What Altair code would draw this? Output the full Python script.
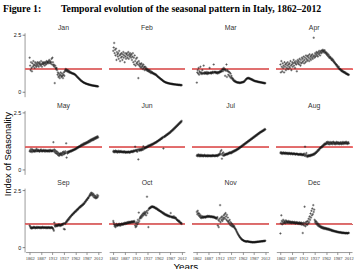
import altair as alt
import pandas as pd

years = list(range(1862, 2013))
months = ["Jan", "Feb", "Mar", "Apr", "May", "Jun",
          "Jul", "Aug", "Sep", "Oct", "Nov", "Dec"]
x_ticks = [1862, 1887, 1912, 1937, 1962, 1987, 2012]
y_ticks = [0, 0.5, 1, 1.5, 2, 2.5]
y_tick_labels = ["0", ".5", "1", "1.5", "2", "2.5"]

jan = [1.50, 1.15, 0.95, 1.30, 1.05, 0.90, 1.25, 1.10, 1.35, 1.15,
       1.20, 1.05, 1.30, 1.15, 1.25, 1.10, 1.20, 1.30, 1.15, 1.25,
       1.10, 1.30, 1.20, 1.25, 1.15, 1.35, 1.20, 1.10, 1.25, 1.30,
       1.20, 1.25, 1.30, 1.15, 1.25, 1.30, 1.20, 1.35, 1.25, 1.30,
       1.30, 1.35, 1.25, 1.40, 1.30, 1.35, 1.25, 1.30, 1.45, 1.20,
       1.50, 1.30, 1.15, 1.20, 1.10, 0.38, 1.15, 1.05, 1.00, 1.05,
       0.95, 0.75, 0.85, 0.65, 0.80, 0.70, 0.60, 0.75, 0.85, 0.70,
       0.65, 0.80, 0.70, 0.60, 0.75, 0.85, 0.70, 0.90, 0.95, 1.00,
       0.92, 0.97, 0.90, 0.95, 0.88, 0.93, 0.86, 0.90, 0.84, 0.87,
       0.83, 0.85, 0.81, 0.82, 0.80, 0.81, 0.78, 0.80, 0.77, 0.76,
       0.75, 0.72, 0.71, 0.68, 0.66, 0.64, 0.62, 0.60, 0.58, 0.56,
       0.54, 0.52, 0.50, 0.48, 0.47, 0.45, 0.44, 0.42, 0.41, 0.40,
       0.39, 0.38, 0.37, 0.36, 0.35, 0.35, 0.34, 0.33, 0.33, 0.32,
       0.31, 0.31, 0.30, 0.30, 0.29, 0.29, 0.28, 0.28, 0.27, 0.27,
       0.27, 0.26, 0.26, 0.26, 0.25, 0.25, 0.25, 0.24, 0.24, 0.24, 0.23]

feb = [1.80, 1.95, 2.15, 1.70, 1.85, 1.60, 1.90, 1.40, 1.75, 1.65,
       1.55, 1.70, 1.45, 1.80, 1.60, 1.35, 1.65, 1.50, 1.70, 1.55,
       1.40, 1.65, 1.75, 1.50, 1.60, 1.30, 1.70, 1.55, 1.45, 1.65,
       1.70, 1.50, 1.60, 1.75, 1.45, 1.65, 1.55, 1.70, 1.60, 1.50,
       1.65, 1.40, 1.55, 1.70, 1.30, 1.50, 1.20, 1.60, 1.35, 1.15,
       1.45, 1.25, 1.50, 1.30, 1.20, 0.60, 1.35, 1.15, 1.25, 1.10,
       1.20, 1.05, 1.25, 1.10, 1.15, 1.00, 1.20, 1.05, 1.10, 0.95,
       1.10, 1.00, 1.05, 0.95, 1.00, 0.92, 0.98, 0.90, 0.94, 0.88,
       0.95, 0.85, 0.90, 0.82, 0.88, 0.83, 0.85, 0.80, 0.82, 0.78,
       0.80, 0.76, 0.78, 0.74, 0.75, 0.72, 0.70, 0.68, 0.66, 0.65,
       0.63, 0.61, 0.60, 0.58, 0.56, 0.55, 0.53, 0.52, 0.50, 0.48,
       0.47, 0.45, 0.44, 0.43, 0.42, 0.41, 0.40, 0.40, 0.39, 0.38,
       0.38, 0.37, 0.37, 0.36, 0.36, 0.35, 0.35, 0.35, 0.34, 0.34,
       0.34, 0.33, 0.33, 0.33, 0.32, 0.32, 0.32, 0.32, 0.31, 0.31,
       0.31, 0.31, 0.30, 0.30, 0.30, 0.30, 0.30, 0.29, 0.29, 0.29, 0.29]

mar = [0.40, 0.85, 0.95, 0.80, 1.05, 0.75, 0.90, 0.85, 1.10, 0.80,
       0.85, 0.78, 0.95, 0.82, 0.80, 1.15, 0.84, 0.79, 0.86, 0.81,
       0.83, 0.80, 0.87, 0.78, 0.82, 0.85, 0.80, 0.84, 1.05, 0.81,
       0.85, 0.83, 0.80, 0.86, 0.84, 0.88, 0.82, 1.20, 0.87, 0.85,
       0.88, 0.86, 0.82, 0.84, 0.87, 0.80, 0.85, 0.86, 0.82, 0.88,
       0.85, 0.90, 0.87, 0.92, 0.89, 0.95, 1.00, 0.90, 0.98, 1.05,
       0.95, 1.00, 0.70, 0.97, 0.92, 1.20, 0.65, 0.95, 0.90, 0.75,
       0.88, 0.70, 0.85, 0.65, 0.80, 0.60, 0.70, 0.62, 0.55, 0.58,
       0.50, 0.52, 0.47, 0.45, 0.48, 0.44, 0.42, 0.43, 0.41, 0.40,
       0.42, 0.39, 0.41, 0.40, 0.38, 0.40, 0.39, 0.41, 0.40, 0.42,
       0.41, 0.43, 0.42, 0.45, 0.44, 0.48, 0.50, 0.52, 0.55, 0.57,
       0.58, 0.60, 0.59, 0.61, 0.58, 0.60, 0.57, 0.58, 0.55, 0.56,
       0.53, 0.55, 0.51, 0.52, 0.49, 0.50, 0.48, 0.47, 0.46, 0.47,
       0.45, 0.46, 0.44, 0.45, 0.43, 0.44, 0.42, 0.43, 0.42, 0.41,
       0.42, 0.40, 0.41, 0.40, 0.39, 0.40, 0.38, 0.39, 0.38, 0.37, 0.38]

apr = [1.20, 0.85, 1.35, 1.10, 0.90, 1.25, 1.05, 1.15, 0.85, 1.30,
       1.10, 1.20, 0.95, 1.25, 1.05, 1.15, 1.30, 1.00, 1.20, 1.10,
       1.25, 1.05, 1.35, 1.15, 0.95, 1.20, 1.30, 1.10, 1.25, 1.40,
       1.15, 1.30, 1.05, 1.25, 1.35, 1.20, 0.90, 1.30, 1.40, 1.25,
       1.35, 1.20, 1.45, 1.30, 1.15, 1.40, 1.25, 1.50, 1.30, 1.45,
       1.35, 1.55, 1.25, 1.40, 1.50, 1.30, 1.60, 1.45, 1.35, 1.55,
       1.40, 1.60, 1.50, 1.35, 1.65, 1.45, 1.55, 1.40, 1.60, 1.50,
       1.65, 1.45, 1.55, 2.38, 1.60, 1.50, 1.70, 1.55, 1.65, 1.75,
       1.60, 1.70, 1.55, 1.75, 1.65, 1.80, 1.70, 1.60, 1.75, 1.80,
       1.70, 1.82, 1.75, 1.85, 1.78, 1.80, 1.72, 1.83, 1.76, 1.70,
       1.74, 1.65, 1.70, 1.60, 1.66, 1.55, 1.62, 1.50, 1.56, 1.48,
       1.52, 1.45, 1.40, 1.47, 1.38, 1.42, 1.33, 1.36, 1.28, 1.30,
       1.25, 1.22, 1.18, 1.20, 1.12, 1.15, 1.08, 1.05, 1.10, 1.00,
       1.02, 0.98, 0.95, 0.97, 0.92, 0.90, 0.93, 0.88, 0.86, 0.89,
       0.85, 0.83, 0.86, 0.80, 0.82, 0.78, 0.80, 0.76, 0.77, 0.74, 0.75]

may = [0.80, 0.85, 0.78, 0.90, 0.82, 0.76, 0.88, 0.80, 0.85, 0.79,
       0.83, 0.78, 0.86, 0.80, 0.84, 0.90, 0.79, 0.82, 0.87, 0.81,
       0.84, 0.80, 0.78, 0.85, 0.82, 0.88, 0.80, 0.83, 0.79, 0.84,
       0.81, 0.86, 0.80, 0.83, 0.78, 0.85, 0.82, 0.80, 0.84, 0.79,
       0.83, 0.80, 0.85, 0.78, 0.82, 0.86, 0.80, 0.84, 0.81, 0.79,
       0.82, 0.85, 1.20, 0.80, 0.88, 0.76, 0.84, 0.72, 0.80, 0.70,
       0.78, 0.66, 0.74, 0.62, 0.70, 0.60, 0.68, 0.65, 0.72, 0.64,
       0.70, 0.62, 0.75, 0.68, 0.78, 0.66, 0.74, 0.70, 0.80, 0.72,
       1.15, 0.52, 0.76, 0.70, 0.78, 0.74, 0.80, 0.76, 0.79, 0.82,
       0.78, 0.83, 0.80, 0.85, 0.82, 0.87, 0.84, 0.88, 0.86, 0.90,
       0.88, 0.92, 0.90, 0.95, 0.93, 0.97, 0.95, 1.00, 0.98, 1.02,
       1.00, 1.05, 1.02, 1.08, 1.04, 1.10, 1.06, 1.12, 1.08, 1.15,
       1.10, 1.16, 1.12, 1.18, 1.14, 1.20, 1.16, 1.22, 1.18, 1.25,
       1.20, 1.27, 1.22, 1.30, 1.25, 1.32, 1.27, 1.34, 1.29, 1.36,
       1.30, 1.38, 1.33, 1.40, 1.35, 1.42, 1.37, 1.44, 1.39, 1.46, 1.41]

jun = [0.78, 0.82, 0.75, 0.80, 0.77, 0.83, 0.76, 0.79, 0.81, 0.74,
       0.79, 0.76, 0.82, 0.78, 0.75, 0.80, 0.77, 0.81, 0.76, 0.78,
       0.75, 0.79, 0.77, 0.74, 0.80, 0.76, 0.78, 0.73, 0.77, 0.75,
       0.78, 0.74, 0.76, 0.79, 0.75, 0.77, 0.73, 0.78, 0.76, 0.80,
       0.77, 0.81, 0.78, 0.76, 0.82, 0.79, 0.84, 0.80, 1.00, 0.83,
       0.86, 0.80, 0.85, 0.78, 0.88, 0.44, 0.84, 0.90, 0.82, 0.87,
       0.85, 0.91, 0.84, 0.88, 0.93, 0.86, 1.02, 0.90, 0.95, 0.92,
       0.97, 0.94, 0.99, 0.96, 1.01, 0.98, 1.04, 1.00, 1.06, 1.03,
       1.05, 1.08, 1.04, 1.10, 1.07, 1.12, 1.09, 1.13, 1.11, 1.16,
       1.14, 1.18, 1.16, 1.20, 1.18, 1.23, 1.21, 1.25, 1.24, 1.28,
       1.27, 1.31, 1.29, 1.34, 1.32, 1.37, 1.35, 1.40, 1.38, 1.43,
       0.92, 1.42, 1.46, 1.44, 1.49, 1.47, 1.52, 1.50, 1.55, 1.53,
       1.58, 1.56, 1.61, 1.59, 1.64, 1.62, 1.68, 1.66, 1.71, 1.70,
       1.75, 1.73, 1.79, 1.77, 1.83, 1.81, 1.87, 1.85, 1.91, 1.89,
       1.95, 1.93, 1.99, 1.97, 2.03, 2.01, 2.07, 2.05, 2.11, 2.09, 2.14]

jul = [0.60, 0.64, 0.58, 0.62, 0.66, 0.59, 0.63, 0.57, 0.61, 0.65,
       0.60, 0.58, 0.63, 0.61, 0.57, 0.62, 0.59, 0.64, 0.60, 0.58,
       0.62, 0.59, 0.61, 0.57, 0.63, 0.60, 0.58, 0.62, 0.59, 0.61,
       0.58, 0.62, 0.60, 0.57, 0.61, 0.63, 0.59, 0.60, 0.62, 0.58,
       0.61, 0.59, 0.63, 0.60, 0.62, 0.58, 0.64, 0.61, 0.66, 0.63,
       0.68, 0.72, 0.80, 0.65, 0.85, 0.47, 0.70, 0.62, 0.75, 0.60,
       0.66, 0.62, 0.68, 0.64, 0.66, 0.69, 0.65, 0.70, 0.67, 0.72,
       0.69, 0.74, 0.71, 0.76, 0.73, 0.70, 0.75, 0.78, 0.74, 0.80,
       0.77, 0.82, 0.79, 0.84, 0.81, 0.86, 0.83, 0.88, 0.86, 0.90,
       0.88, 0.93, 0.91, 0.96, 0.94, 0.99, 0.97, 1.02, 1.00, 1.05,
       1.03, 1.08, 1.06, 1.11, 1.09, 1.14, 1.12, 1.17, 1.15, 1.20,
       1.18, 1.23, 1.21, 1.26, 1.24, 1.29, 1.27, 1.32, 1.30, 1.35,
       1.33, 1.38, 1.36, 1.41, 1.39, 1.44, 1.42, 1.47, 1.45, 1.50,
       1.48, 1.53, 1.51, 1.56, 1.54, 1.59, 1.57, 1.62, 1.60, 1.65,
       1.63, 1.67, 1.65, 1.70, 1.68, 1.72, 1.70, 1.75, 1.73, 1.78, 1.76]

aug = [0.72, 0.76, 0.70, 0.74, 0.68, 0.73, 0.71, 0.75, 0.69, 0.72,
       0.70, 0.74, 0.68, 0.71, 0.73, 0.69, 0.72, 0.67, 0.70, 0.73,
       0.69, 0.71, 0.67, 0.70, 0.72, 0.68, 0.70, 0.66, 0.69, 0.71,
       0.67, 0.70, 0.68, 0.65, 0.69, 0.67, 0.70, 0.66, 0.68, 0.64,
       0.67, 0.65, 0.68, 0.64, 0.66, 0.69, 0.63, 0.67, 0.65, 0.62,
       0.66, 0.64, 0.70, 0.60, 1.00, 0.65, 0.58, 0.72, 0.62, 0.55,
       0.60, 0.57, 0.63, 0.59, 0.62, 0.58, 0.64, 0.60, 0.63, 0.66,
       0.62, 0.65, 0.68, 0.64, 0.70, 0.67, 0.73, 0.70, 0.76, 0.74,
       0.80, 0.78, 0.85, 0.82, 0.88, 0.86, 0.92, 0.95, 0.93, 0.98,
       1.00, 0.97, 1.04, 1.02, 1.08, 1.05, 1.12, 1.09, 1.15, 1.10,
       1.14, 1.20, 1.12, 1.17, 1.22, 1.13, 1.19, 1.10, 1.16, 1.21,
       1.12, 1.18, 1.14, 1.20, 1.11, 1.17, 1.22, 1.13, 1.19, 1.15,
       1.10, 1.18, 1.14, 1.21, 1.12, 1.16, 1.20, 1.13, 1.18, 1.11,
       1.17, 1.13, 1.20, 1.15, 1.11, 1.19, 1.14, 1.21, 1.12, 1.18,
       1.15, 1.20, 1.13, 1.17, 1.22, 1.14, 1.19, 1.12, 1.16, 1.20, 1.14]

sep = [0.95, 0.90, 0.84, 0.88, 0.82, 0.86, 0.83, 0.87, 0.85, 0.89,
       0.84, 0.88, 0.86, 0.83, 0.87, 0.85, 0.89, 0.84, 0.86, 0.88,
       0.85, 0.87, 0.84, 0.88, 0.86, 0.83, 0.87, 0.85, 0.89, 0.86,
       0.84, 0.88, 0.86, 0.85, 0.87, 0.84, 0.88, 0.86, 0.83, 0.87,
       0.85, 0.88, 0.84, 0.87, 0.86, 0.83, 0.87, 0.85, 0.88, 0.84,
       0.86, 0.82, 0.78, 0.72, 1.08, 0.95, 0.90, 0.98, 0.93, 0.96,
       0.92, 0.97, 0.94, 0.99, 0.95, 1.00, 0.96, 0.93, 0.98, 0.95,
       1.00, 0.97, 1.02, 0.98, 1.04, 0.80, 1.05, 0.78, 1.02, 1.08,
       1.10, 1.15, 1.12, 1.20, 1.18, 1.25, 1.22, 1.30, 1.28, 1.35,
       1.33, 1.38, 1.40, 1.44, 1.42, 1.47, 1.50, 1.48, 1.53, 1.56,
       1.55, 1.60, 1.58, 1.63, 1.66, 1.64, 1.70, 1.68, 1.73, 1.76,
       1.74, 1.80, 1.77, 1.83, 1.81, 1.86, 1.84, 1.90, 1.88, 1.94,
       1.92, 1.98, 2.02, 2.00, 2.06, 2.10, 2.08, 2.14, 2.18, 2.16,
       2.22, 2.26, 2.30, 2.35, 2.28, 2.40, 2.33, 2.38, 2.30, 2.25,
       2.34, 2.20, 2.28, 2.18, 2.25, 2.15, 2.22, 2.17, 2.30, 2.20, 2.26]

oct_ = [1.15, 1.08, 1.00, 0.92, 0.98, 0.88, 0.95, 1.02, 0.93, 0.97,
        0.95, 1.00, 0.96, 1.03, 0.98, 0.94, 1.01, 0.97, 1.04, 0.99,
        1.02, 0.98, 1.05, 1.00, 1.03, 1.07, 1.01, 1.05, 1.08, 1.03,
        1.06, 1.10, 1.04, 1.08, 1.11, 1.06, 1.09, 1.12, 1.07, 1.10,
        1.13, 1.08, 1.11, 1.14, 1.09, 1.12, 1.15, 1.10, 0.95, 0.88,
        1.05, 0.92, 1.10, 1.00, 1.20, 1.08, 1.52, 1.15, 1.25, 1.30,
        1.35, 1.28, 1.40, 1.33, 1.45, 1.38, 1.50, 1.42, 1.48, 1.55,
        1.45, 1.52, 1.40, 1.58, 2.22, 1.50, 1.62, 0.88, 1.68, 1.72,
        1.70, 1.75, 1.73, 1.78, 1.76, 1.80, 1.77, 1.79, 1.75, 1.78,
        1.74, 1.76, 1.72, 1.70, 1.73, 1.68, 1.70, 1.65, 1.67, 1.62,
        1.64, 1.60, 1.61, 1.57, 1.58, 1.55, 1.56, 1.52, 1.50, 1.53,
        1.48, 1.46, 1.49, 1.43, 1.45, 1.41, 1.44, 1.39, 1.42, 1.37,
        1.40, 1.36, 1.38, 1.34, 1.37, 1.33, 1.50, 1.35, 1.31, 1.34,
        1.30, 1.33, 1.29, 1.36, 1.28, 1.31, 1.27, 1.30, 1.25, 1.22,
        1.20, 1.17, 1.19, 1.14, 1.12, 1.15, 1.10, 1.08, 1.05, 1.07, 1.02]

nov = [1.55, 1.45, 1.60, 1.50, 1.40, 1.48, 1.35, 1.42, 1.30, 1.38,
       1.28, 1.33, 1.30, 1.36, 1.29, 1.32, 1.34, 1.31, 1.35, 1.30,
       1.33, 1.36, 1.32, 1.35, 1.38, 1.33, 1.36, 1.34, 1.37, 1.33,
       1.35, 1.32, 1.36, 1.34, 1.31, 1.35, 1.33, 1.30, 1.34, 1.29,
       1.31, 1.27, 1.30, 1.25, 1.28, 1.32, 0.95, 1.20, 0.88, 1.15,
       1.25, 1.85, 1.10, 1.30, 1.20, 1.35, 1.15, 1.28, 1.22, 1.40,
       1.30, 1.45, 1.25, 1.50, 1.35, 1.20, 1.42, 1.15, 1.30, 1.10,
       1.15, 1.05, 1.20, 0.98, 1.10, 0.95, 1.05, 0.92, 1.00, 0.90,
       0.95, 0.88, 0.92, 0.85, 0.82, 0.78, 0.75, 0.70, 0.66, 0.62,
       0.58, 0.55, 0.51, 0.48, 0.45, 0.42, 0.40, 0.37, 0.35, 0.33,
       0.32, 0.30, 0.29, 0.28, 0.27, 0.26, 0.26, 0.25, 0.24, 0.24,
       0.26, 0.25, 0.25, 0.24, 0.24, 0.23, 0.23, 0.23, 0.22, 0.22,
       0.22, 0.22, 0.21, 0.21, 0.22, 0.21, 0.22, 0.21, 0.22, 0.22,
       0.23, 0.22, 0.23, 0.23, 0.24, 0.23, 0.24, 0.24, 0.25, 0.24,
       0.25, 0.25, 0.26, 0.25, 0.26, 0.26, 0.27, 0.26, 0.27, 0.27, 0.28]

dec = [0.60, 1.05, 1.40, 1.15, 1.00, 1.10, 1.20, 1.05, 1.15, 1.08,
       1.12, 1.05, 1.18, 1.10, 1.14, 1.07, 1.12, 1.09, 1.15, 1.06,
       1.10, 1.13, 1.07, 1.11, 1.05, 1.09, 1.12, 1.06, 1.10, 1.08,
       1.05, 1.11, 1.07, 1.03, 1.09, 1.06, 1.10, 1.04, 1.08, 1.02,
       1.07, 1.04, 1.09, 1.01, 1.06, 1.03, 1.08, 0.98, 1.05, 0.62,
       1.00, 1.08, 0.95, 1.78, 1.05, 0.92, 1.10, 1.00, 1.12, 0.98,
       1.15, 1.05, 1.25, 1.10, 1.35, 1.20, 1.48, 1.30, 1.60, 1.40,
       1.70, 1.45, 1.85, 1.55, 1.65, 1.20, 1.10, 1.15, 1.05, 1.12,
       1.00, 1.06, 0.95, 1.02, 0.92, 0.98, 0.90, 0.94, 0.87, 0.91,
       0.85, 0.89, 0.83, 0.88, 0.82, 0.86, 0.80, 0.85, 0.81, 0.84,
       0.79, 0.83, 0.78, 0.82, 0.77, 0.81, 0.76, 0.80, 0.75, 0.78,
       0.74, 0.77, 0.72, 0.75, 0.71, 0.74, 0.70, 0.72, 0.69, 0.71,
       0.68, 0.70, 0.67, 0.69, 0.66, 0.68, 0.65, 0.67, 0.64, 0.66,
       0.65, 0.63, 0.66, 0.64, 0.62, 0.65, 0.63, 0.61, 0.64, 0.62,
       0.63, 0.61, 0.62, 0.60, 0.63, 0.61, 0.62, 0.60, 0.61, 0.63, 0.62]

series = dict(zip(months, [jan, feb, mar, apr, may, jun,
                           jul, aug, sep, oct_, nov, dec]))

records = []
for m in months:
    for yr, v in zip(years, series[m]):
        records.append({"month": m, "year": yr, "value": v})
df = pd.DataFrame(records)

W, H = 77, 65
FONT = "Liberation Sans"
RS = 5

xscale = alt.Scale(domain=[1853, 2019], nice=False, zero=False)
yscale = alt.Scale(domain=[-0.22, 2.6], nice=False, zero=False)

label_expr = " : ".join(
    [f"datum.value == {v} ? '{t}'" for v, t in zip(y_ticks, y_tick_labels)]
) + " : ''"

base = alt.Chart()

points = base.mark_point(
    shape="M-1,0L1,0M0,-1L0,1", filled=False, size=6,
    strokeWidth=0.5, color="#111111", opacity=1
).encode(
    x=alt.X("year:Q", scale=xscale,
            axis=alt.Axis(values=x_ticks, format="d", title=None,
                          labelFontSize=4.6,
                          labelFont="Liberation Sans Narrow",
                          labelPadding=1.5, tickSize=2.5,
                          labelFlush=False, labelOverlap=False)),
    y=alt.Y("value:Q", scale=yscale,
            axis=alt.Axis(values=y_ticks, title=None, labelFontSize=5.5,
                          labelAngle=0, labelPadding=1.5,
                          tickSize=2.5, labelOverlap=False,
                          labelFlush=False, labelBound=False,
                          labelColor="#111111", tickColor="#333333",
                          labelExpr=label_expr)),
)

rule = base.mark_rule(color="#e27070", strokeWidth=0.7).encode(y=alt.datum(1))

panel = alt.layer(rule, points, data=df).properties(width=W, height=H)

grid = panel.facet(
    facet=alt.Facet("month:N", sort=months,
                    header=alt.Header(title=None, labelFontSize=7,
                                      labelFont=FONT, labelColor="#333333",
                                      labelPadding=2)),
    columns=4,
    spacing={"row": RS, "column": 6},
)

GH = 3 * H + 3 * 10 + 2 * RS
ytitle = alt.Chart(pd.DataFrame({"t": ["Index of Seasonality"]})).mark_text(
    angle=270, fontSize=9.5, font=FONT, color="black"
).encode(text="t:N", x=alt.value(4), y=alt.value(GH / 2 + 6)).properties(
    width=6, height=GH)

xtitle = alt.Chart(pd.DataFrame({"t": ["Years"]})).mark_text(
    fontSize=10, font=FONT, color="black", baseline="top"
).encode(text="t:N", x=alt.value((4 * W + 18) / 2), y=alt.value(0)).properties(
    width=4 * W + 18, height=8)

chart = alt.hconcat(
    ytitle,
    alt.vconcat(grid, xtitle, spacing=1),
    spacing=0,
).properties(
    title=alt.Title(
        "Figure 1:\u00a0\u00a0\u00a0\u00a0\u00a0\u00a0\u00a0\u00a0Temporal evolution of the seasonal pattern in Italy, 1862\u20132012",
        font="Liberation Serif", fontSize=10, fontWeight="bold",
        anchor="start", color="black", offset=10),
    padding={"left": 2, "top": 2, "right": 0, "bottom": 0},
).configure_view(stroke=None).configure_axis(
    grid=False, domainColor="#555555", domainWidth=0.6,
    tickColor="#555555", tickWidth=0.6, labelColor="#333333",
    labelFont=FONT, labelOverlap=False,
)

chart.save("out.html", embed_options={"renderer": "svg", "actions": False})
